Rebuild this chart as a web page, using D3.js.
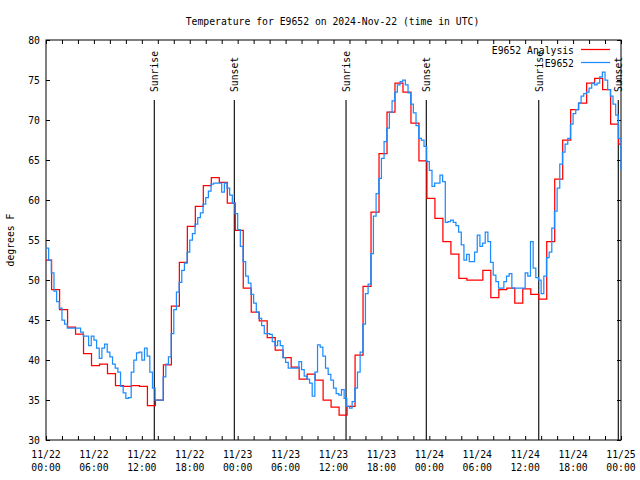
<!DOCTYPE html>
<html><head><meta charset="utf-8">
<script src="https://cdn.jsdelivr.net/npm/d3@7/dist/d3.min.js"></script>
<style>
body{margin:0;background:#fff}
text{font-family:"DejaVu Sans Mono",monospace;font-size:9.75px;fill:#000}
</style>
</head><body><svg id="c" width="640" height="480"></svg>
<script>
const title = "Temperature for E9652 on 2024-Nov-22 (time in UTC)";
const yTitle = "degrees F";
const seriesNames = ["E9652 Analysis", "E9652"];
const seriesColors = ["#ff0000", "#1e8cff"];
const yTicks = [30, 35, 40, 45, 50, 55, 60, 65, 70, 75, 80];
const xLabelHours = [0, 6, 12, 18, 24, 30, 36, 42, 48, 54, 60, 66, 72];
const xLabelDates = ["11/22","11/22","11/22","11/22","11/23","11/23","11/23","11/23","11/24","11/24","11/24","11/24","11/25"];
const xLabelTimes = ["00:00","06:00","12:00","18:00","00:00","06:00","12:00","18:00","00:00","06:00","12:00","18:00","00:00"];
const sunNames = ["Sunrise","Sunset","Sunrise","Sunset","Sunrise","Sunset"];
const sunHours = [13.56, 23.58, 37.57, 47.62, 61.70, 71.66];

// Analysis: hourly values, step i begins at hour i-0.3 (first at 0)
const analysisValues = [
 52.5,48.8,46.3,44.1,43.25,40.8,39.3,39.5,38.3,36.8,36.7,36.8,36.7,34.3,35,39.4,
 46.75,52.2,56.7,59.2,61.8,62.8,62.2,59.6,56.2,49,46,44.9,42.8,41.25,40.3,39.1,
 37.6,38.25,37.5,35,34.1,33.1,34.2,40.6,49.2,58.5,65.8,71,74.6,73.5,69.6,64.9,
 60.2,57.7,54.8,53.25,50.2,50,50,51.2,47.8,48.8,49,47.1,48.9,48.2,47.6,54.8,
 62.6,67.5,71.3,72.1,74.6,75.2,73.8,69.5,67
];
// Station observations every 20 minutes from 00:00
const obsValues = [
 54,52.5,50.9,48.6,47.3,46.5,45,44.5,44,44,44,44,44,43.5,43,43,41.8,43,42.5,41.5,
 40.2,41.5,42,41,40.4,39.5,39,38.5,36.7,35.9,35.2,35.3,38.5,40,40.9,41,40,41.5,40.5,38.5,
 36.5,35,35,35,37.9,39.5,40.4,43.3,46.3,48.5,49.7,51.2,52.1,53.5,55,55.8,57,57.8,58.4,59.5,
 60.3,61.1,62,62.1,62.1,62.1,61,62.1,61.5,60.6,59.6,58.3,56.3,54.2,52.3,50.5,49.6,48.2,47.1,46,
 45.2,44.3,43.3,43.3,43.2,42.3,41.8,42.4,41.8,40.3,39.7,39,39,39,39,39.8,38.8,38,37.6,37.1,
 35.5,38.5,41.9,41.6,40.5,39,38.2,37.5,36.5,35.8,35.6,36.3,35.2,34.2,34,34.8,36.5,38.5,41,44.5,
 48.3,49.5,53.3,58,60.8,62.7,65.2,67.3,69,71,72.4,73.5,74.4,74.8,75,74.4,73.4,72,70.9,69.3,
 67.7,67.5,66.7,64.8,63.7,61.7,62.1,62.1,63.1,62.3,57.2,57.3,57.5,57.2,56.8,56,54.4,52.5,53.2,52.3,
 52.3,53.5,55.6,54.2,54.6,56,54.8,52.2,50.6,49.8,49,49,49.8,50.5,50.8,49,49,49,49,49,
 50.9,50.5,54.8,51.5,50.3,50,48.3,50.5,52.8,53.5,56.5,58.6,61.5,64.5,66,67,67.7,69.5,70.8,71.3,
 72.1,73,73.3,73.5,74,74.6,74.4,74.6,75.4,76,75,73.8,73,72,70.6,67.7,63.7
];

const svg = d3.select("#c");
const L = 46, R = 621, T = 40, B = 440;
const x = d3.scaleLinear().domain([0, 72]).range([L, R]);
const y = d3.scaleLinear().domain([30, 80]).range([B, T]);

svg.append("rect").attr("width", 640).attr("height", 480).attr("fill", "#fff");

// title
svg.append("text").attr("x", 332.5).attr("y", 25).attr("text-anchor", "middle").text(title);

// y axis title
svg.append("text").attr("transform", "translate(13.5,240) rotate(-90)")
  .attr("text-anchor", "middle").text(yTitle);

// axes
const tick2h = d3.range(0, 73, 2);
const axB = svg.append("g").attr("transform", `translate(0,${B})`)
  .call(d3.axisBottom(x).tickValues(tick2h).tickSizeInner(-4).tickSizeOuter(0).tickFormat(""));
const axT = svg.append("g").attr("transform", `translate(0,${T})`)
  .call(d3.axisTop(x).tickValues(tick2h).tickSizeInner(-4).tickSizeOuter(0).tickFormat(""));
const axL = svg.append("g").attr("transform", `translate(${L},0)`)
  .call(d3.axisLeft(y).tickValues(yTicks).tickSizeInner(-4).tickSizeOuter(0).tickPadding(6).tickFormat(d3.format("d")));
const axR = svg.append("g").attr("transform", `translate(${R},0)`)
  .call(d3.axisRight(y).tickValues(yTicks).tickSizeInner(-4).tickSizeOuter(0).tickFormat(""));
[axB, axT, axL, axR].forEach(g => {
  g.select(".domain").remove();
  g.selectAll("line").attr("stroke", "#000");
  g.selectAll("text").attr("font-family", null).attr("font-size", null).attr("fill", "#000");
});
axL.selectAll("text").attr("dy", "0.34em");

// two-line x labels
const xl = svg.append("g");
xLabelHours.forEach((h, i) => {
  const t = xl.append("text").attr("text-anchor", "middle");
  t.append("tspan").attr("x", x(h)).attr("y", 457.5).text(xLabelDates[i]);
  t.append("tspan").attr("x", x(h)).attr("y", 470.5).text(xLabelTimes[i]);
});

// frame
svg.append("rect").attr("x", L).attr("y", T).attr("width", R - L).attr("height", B - T)
  .attr("fill", "none").attr("stroke", "#000").attr("stroke-width", 1);

// sunrise / sunset lines
const sg = svg.append("g");
sunHours.forEach((h, i) => {
  sg.append("line").attr("x1", x(h)).attr("x2", x(h)).attr("y1", 100).attr("y2", B)
    .attr("stroke", "#000").attr("stroke-width", 1.1);
  sg.append("text").attr("transform", `translate(${x(h) + 4},92) rotate(-90)`)
    .attr("text-anchor", "start").text(sunNames[i]);
});

// data
svg.append("clipPath").attr("id", "pc").append("rect")
  .attr("x", L).attr("y", T).attr("width", R - L).attr("height", B - T);
const line = d3.line().x(d => x(d[0])).y(d => y(d[1])).curve(d3.curveStepAfter);
const anaPts = analysisValues.map((v, i) => [i === 0 ? 0 : i - 0.3, v]);
anaPts.push([72, analysisValues[analysisValues.length - 1]]);
const obsPts = obsValues.map((v, k) => [k / 3, v]);

svg.append("path").attr("clip-path", "url(#pc)").attr("d", line(anaPts))
  .attr("fill", "none").attr("stroke", seriesColors[0]).attr("stroke-width", 1.25);
svg.append("path").attr("clip-path", "url(#pc)").attr("d", line(obsPts))
  .attr("fill", "none").attr("stroke", seriesColors[1]).attr("stroke-width", 1.25);

// legend
const lg = svg.append("g");
seriesNames.forEach((n, i) => {
  const yy = 49.5 + i * 13;
  lg.append("text").attr("x", 574).attr("y", yy + 4).attr("text-anchor", "end").text(n);
  lg.append("line").attr("x1", 581).attr("x2", 610).attr("y1", yy).attr("y2", yy)
    .attr("stroke", seriesColors[i]).attr("stroke-width", 1.25);
});
</script>
</body></html>
